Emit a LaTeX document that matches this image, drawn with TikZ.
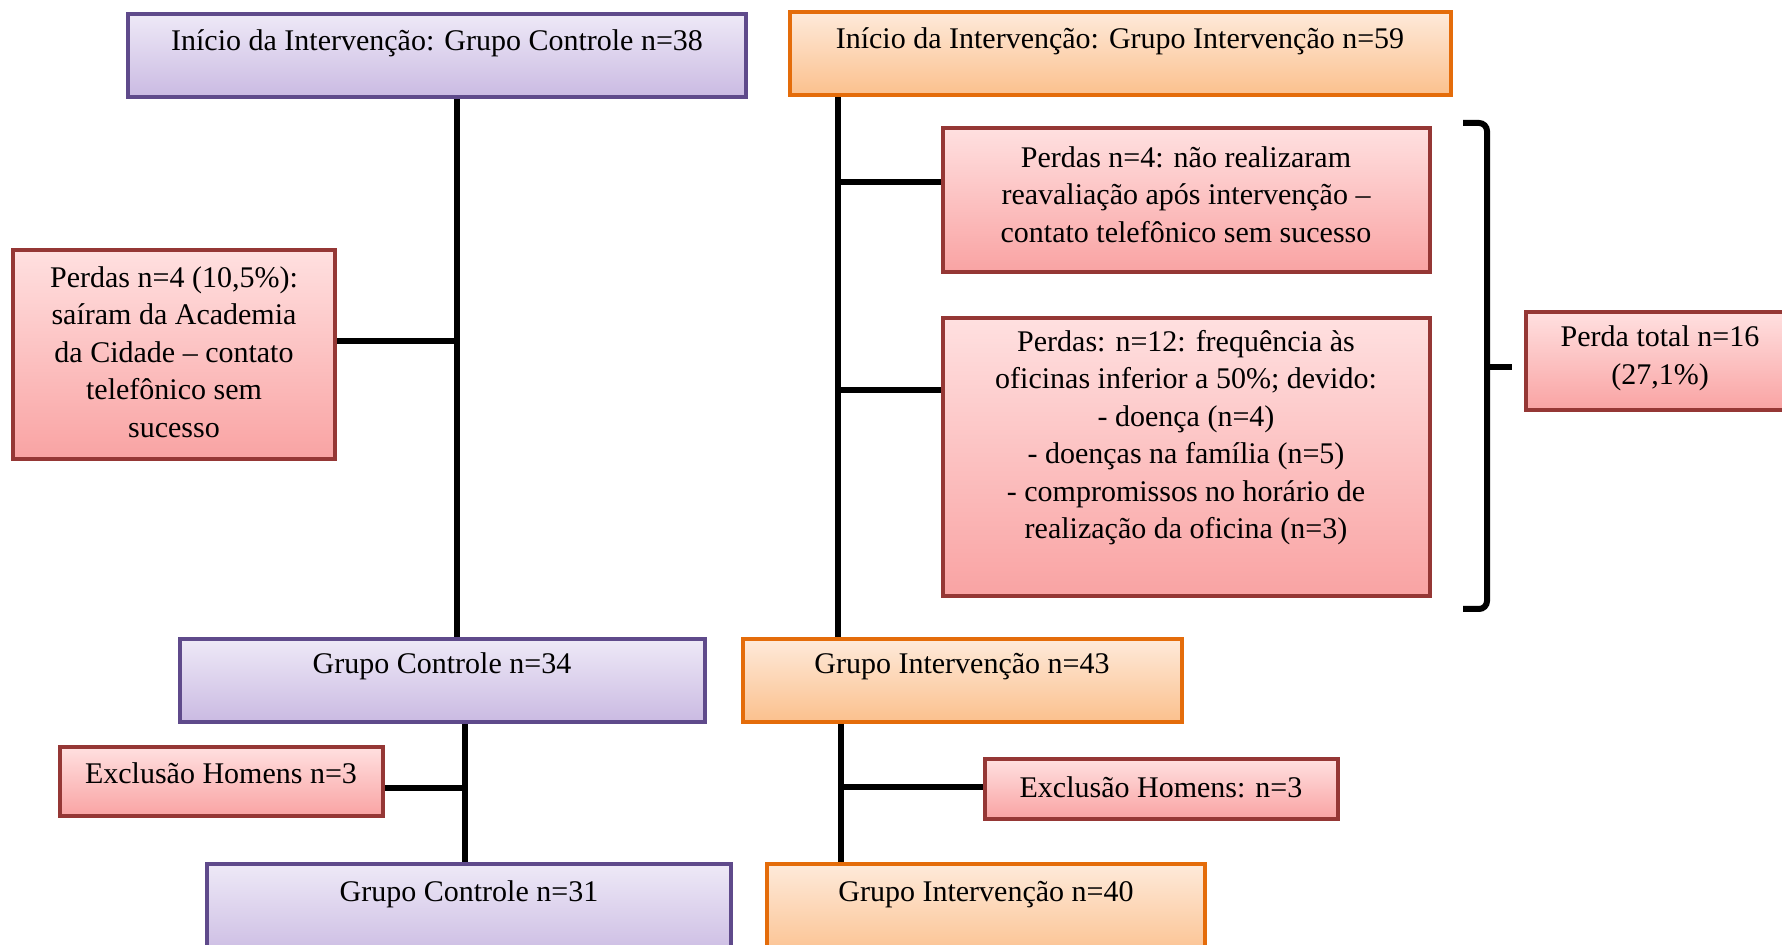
\documentclass[tikz,border=0pt]{standalone}
\usepackage{fontspec}
\setmainfont{Liberation Serif}
\usetikzlibrary{fit,shadows}

\definecolor{purpleline}{HTML}{5F4A8B}
\definecolor{purpletop}{HTML}{EEE9F7}
\definecolor{purplebot}{HTML}{CABAE2}
\definecolor{orangeline}{HTML}{E46C0A}
\definecolor{orangetop}{HTML}{FEEADA}
\definecolor{orangebot}{HTML}{FBC08D}
\definecolor{redline}{HTML}{953735}
\definecolor{redtop}{HTML}{FFE0E0}
\definecolor{redbot}{HTML}{F9A3A3}

\tikzset{
  panel/.style={rectangle, inner sep=0pt, line width=2.2pt,
    drop shadow={shadow xshift=1.2pt, shadow yshift=-1.2pt, opacity=0.2}},
  ctrlbox/.style={panel, draw=purpleline, top color=purpletop, bottom color=purplebot},
  intbox/.style={panel, draw=orangeline, top color=orangetop, bottom color=orangebot},
  lossbox/.style={panel, draw=redline, top color=redtop, bottom color=redbot},
  boxtext/.style={inner sep=0pt, align=center, font=\fontsize{15pt}{18.75pt}\selectfont},
  link/.style={line width=3pt, black},
}

\begin{document}
\begin{tikzpicture}[x=0.5pt, y=-0.5pt]
\useasboundingbox (0,0) rectangle (1782,945);
\clip (0,0) rectangle (1782,945);

% boxes
\node[ctrlbox, fit={(128,14) (746,97)}]    (A) {};
\node[intbox,  fit={(790,12) (1451,95)}]   (B) {};
\node[lossbox, fit={(13,250) (335,459)}]   (C) {};
\node[lossbox, fit={(943,128) (1430,272)}] (D) {};
\node[lossbox, fit={(943,318) (1430,596)}] (E) {};
\node[lossbox, fit={(1526,312) (1794,410)}] (F) {};
\node[ctrlbox, fit={(180,639) (705,722)}]  (G) {};
\node[intbox,  fit={(743,639) (1182,722)}] (H) {};
\node[lossbox, fit={(60,747) (383,816)}]   (I) {};
\node[lossbox, fit={(985,759) (1338,819)}] (J) {};
\node[ctrlbox, fit={(207,864) (731,960)}]  (K) {};
\node[intbox,  fit={(767,864) (1205,960)}] (L) {};

% texts
\node[boxtext, anchor=base] (At) at (437,51) {Início da Intervenção: Grupo Controle n=38};
\node[boxtext, anchor=base] (Bt) at (1120,49) {Início da Intervenção: Grupo Intervenção n=59};
\node[boxtext] (Ct) at (174,352) {Perdas n=4 (10,5\%):\\saíram da Academia\\da Cidade – contato\\telefônico sem\\sucesso};
\node[boxtext] (Dt) at (1186,194.5) {Perdas n=4: não realizaram\\reavaliação após intervenção –\\contato telefônico sem sucesso};
\node[boxtext] (Et) at (1186,437.5) {Perdas: n=12: frequência às\\oficinas inferior a 50\%; devido:\\- doença (n=4)\\- doenças na família (n=5)\\- compromissos no horário de\\realização da oficina (n=3)};
\node[boxtext] (Ft) at (1660,358.5) {Perda total n=16\\(27,1\%)};
\node[boxtext, anchor=base] (Gt) at (442,674) {Grupo Controle n=34};
\node[boxtext, anchor=base] (Ht) at (962,674) {Grupo Intervenção n=43};
\node[boxtext, anchor=base] (It) at (221,783) {Exclusão Homens n=3};
\node[boxtext, anchor=base] (Jt) at (1161,797) {Exclusão Homens: n=3};
\node[boxtext, anchor=base] (Kt) at (469,901) {Grupo Controle n=31};
\node[boxtext, anchor=base] (Lt) at (986,901) {Grupo Intervenção n=40};

% trunk positions and junctions
\coordinate (xl)  at (457,0);
\coordinate (xr)  at (838,0);
\coordinate (xl2) at (465,0);
\coordinate (xr2) at (841,0);
\coordinate (jC) at (457,341);
\coordinate (jD) at (838,182);
\coordinate (jE) at (838,390);
\coordinate (jI) at (465,788);
\coordinate (jJ) at (841,787);

% connectors
\draw[link] (A.south -| xl) -- (G.north -| xl);
\draw[link] (jC) -- (C.east |- jC);
\draw[link] (B.south -| xr) -- (H.north -| xr);
\draw[link] (jD) -- (D.west |- jD);
\draw[link] (jE) -- (E.west |- jE);
\draw[link] (G.south -| xl2) -- (K.north -| xl2);
\draw[link] (jI) -- (I.east |- jI);
\draw[link] (H.south -| xr2) -- (L.north -| xr2);
\draw[link] (jJ) -- (J.west |- jJ);

% bracket grouping the two losses
\coordinate (brT) at (1463,123);
\coordinate (brB) at (1463,609);
\coordinate (brM) at (1487,367);
\coordinate (brTip) at (1512,367);
\draw[link, rounded corners=4pt] (brT) -- (1487,123) -- (1487,609) -- (brB);
\draw[link] (brM) -- (brTip);
\end{tikzpicture}
\end{document}
